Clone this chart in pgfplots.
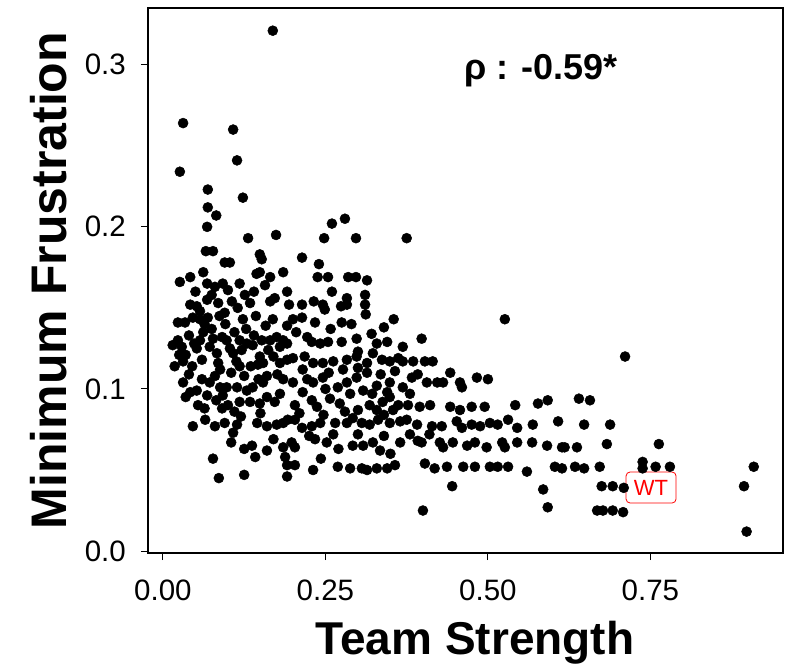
\documentclass[border=0pt]{standalone}
\usepackage{pgfplots}
\usepackage{pgfplotstable}
\pgfplotsset{compat=1.18}
\usepackage{fontspec}
\setmainfont{Liberation Sans}
\pgfplotstableread{
x y
0.169 0.321
0.031 0.264
0.108 0.260
0.114 0.241
0.026 0.234
0.069 0.223
0.123 0.218
0.069 0.212
0.082 0.207
0.068 0.200
0.131 0.193
0.174 0.195
0.066 0.185
0.077 0.185
0.149 0.183
0.152 0.180
0.095 0.178
0.103 0.178
0.149 0.172
0.144 0.171
0.165 0.169
0.185 0.172
0.026 0.166
0.042 0.169
0.062 0.172
0.068 0.165
0.080 0.163
0.092 0.165
0.118 0.165
0.126 0.158
0.134 0.153
0.075 0.158
0.068 0.155
0.106 0.154
0.165 0.154
0.172 0.156
0.042 0.152
0.052 0.151
0.057 0.148
0.095 0.147
0.046 0.144
0.057 0.143
0.069 0.144
0.123 0.143
0.169 0.143
0.023 0.141
0.034 0.141
0.062 0.135
0.057 0.130
0.077 0.131
0.091 0.132
0.098 0.130
0.118 0.130
0.129 0.128
0.138 0.127
0.165 0.130
0.175 0.132
0.023 0.130
0.029 0.126
0.052 0.125
0.072 0.126
0.108 0.122
0.149 0.120
0.154 0.116
0.180 0.126
0.185 0.130
0.018 0.114
0.045 0.114
0.031 0.117
0.085 0.116
0.088 0.112
0.118 0.114
0.146 0.115
0.180 0.116
0.031 0.104
0.042 0.098
0.052 0.099
0.072 0.104
0.088 0.101
0.098 0.101
0.114 0.101
0.129 0.099
0.138 0.101
0.154 0.104
0.068 0.096
0.092 0.096
0.054 0.090
0.091 0.088
0.100 0.090
0.118 0.092
0.134 0.092
0.149 0.091
0.172 0.092
0.046 0.077
0.080 0.077
0.108 0.073
0.114 0.078
0.145 0.079
0.160 0.077
0.175 0.078
0.192 0.081
0.077 0.057
0.137 0.065
0.142 0.058
0.188 0.058
0.086 0.045
0.125 0.047
0.191 0.046
0.260 0.202
0.280 0.205
0.248 0.193
0.297 0.193
0.375 0.193
0.214 0.181
0.240 0.177
0.238 0.169
0.254 0.169
0.285 0.169
0.297 0.169
0.314 0.167
0.191 0.160
0.260 0.160
0.283 0.156
0.283 0.152
0.311 0.158
0.311 0.152
0.312 0.146
0.194 0.152
0.214 0.152
0.232 0.154
0.246 0.152
0.249 0.149
0.274 0.151
0.200 0.143
0.191 0.139
0.214 0.144
0.234 0.141
0.275 0.141
0.355 0.143
0.191 0.128
0.229 0.129
0.242 0.128
0.254 0.129
0.275 0.129
0.298 0.131
0.329 0.128
0.345 0.129
0.369 0.126
0.191 0.118
0.200 0.119
0.218 0.120
0.231 0.116
0.246 0.116
0.262 0.117
0.283 0.118
0.298 0.120
0.314 0.116
0.323 0.122
0.337 0.118
0.349 0.117
0.362 0.119
0.185 0.106
0.200 0.104
0.222 0.106
0.231 0.104
0.246 0.107
0.269 0.101
0.283 0.104
0.298 0.107
0.314 0.110
0.308 0.099
0.329 0.102
0.349 0.104
0.369 0.101
0.203 0.090
0.229 0.093
0.237 0.089
0.257 0.094
0.272 0.091
0.318 0.090
0.338 0.092
0.349 0.095
0.362 0.090
0.377 0.090
0.329 0.087
0.354 0.087
0.185 0.079
0.203 0.081
0.214 0.076
0.229 0.077
0.242 0.079
0.265 0.079
0.283 0.079
0.292 0.082
0.306 0.079
0.318 0.078
0.331 0.081
0.349 0.079
0.365 0.080
0.375 0.081
0.185 0.064
0.198 0.067
0.203 0.064
0.234 0.069
0.252 0.067
0.292 0.065
0.308 0.065
0.323 0.067
0.334 0.062
0.365 0.067
0.191 0.053
0.203 0.053
0.231 0.050
0.269 0.052
0.288 0.051
0.306 0.051
0.314 0.050
0.329 0.051
0.345 0.051
0.357 0.053
0.526 0.143
0.398 0.131
0.369 0.117
0.385 0.117
0.403 0.117
0.415 0.117
0.383 0.107
0.392 0.109
0.442 0.110
0.406 0.104
0.422 0.104
0.431 0.104
0.457 0.104
0.460 0.101
0.483 0.107
0.500 0.106
0.395 0.089
0.411 0.090
0.442 0.089
0.457 0.087
0.475 0.089
0.495 0.089
0.542 0.090
0.577 0.091
0.391 0.078
0.414 0.077
0.429 0.077
0.452 0.080
0.460 0.076
0.475 0.078
0.488 0.077
0.503 0.079
0.515 0.078
0.531 0.081
0.545 0.076
0.569 0.078
0.398 0.067
0.426 0.067
0.431 0.064
0.446 0.067
0.468 0.065
0.480 0.067
0.498 0.064
0.522 0.067
0.526 0.064
0.545 0.067
0.568 0.067
0.591 0.065
0.403 0.054
0.418 0.051
0.437 0.052
0.462 0.052
0.480 0.052
0.503 0.052
0.515 0.052
0.531 0.052
0.560 0.049
0.445 0.040
0.585 0.038
0.400 0.025
0.592 0.027
0.711 0.120
0.592 0.093
0.640 0.094
0.657 0.093
0.608 0.080
0.648 0.078
0.688 0.078
0.614 0.064
0.618 0.064
0.637 0.064
0.683 0.066
0.763 0.066
0.603 0.052
0.614 0.051
0.634 0.052
0.648 0.051
0.672 0.052
0.738 0.055
0.738 0.051
0.758 0.052
0.780 0.052
0.909 0.052
0.675 0.040
0.692 0.040
0.709 0.039
0.894 0.040
0.668 0.025
0.677 0.025
0.692 0.025
0.708 0.024
0.898 0.012
0.035 0.121
0.040 0.133
0.048 0.128
0.060 0.118
0.064 0.140
0.075 0.137
0.083 0.122
0.087 0.145
0.096 0.140
0.103 0.125
0.110 0.135
0.113 0.117
0.121 0.124
0.128 0.137
0.135 0.114
0.140 0.133
0.143 0.145
0.152 0.130
0.158 0.139
0.162 0.124
0.170 0.120
0.176 0.109
0.160 0.108
0.147 0.106
0.125 0.108
0.105 0.110
0.080 0.108
0.060 0.106
0.040 0.109
0.025 0.121
0.015 0.127
0.050 0.160
0.085 0.153
0.100 0.161
0.115 0.150
0.140 0.160
0.157 0.164
0.035 0.095
0.064 0.088
0.082 0.093
0.110 0.086
0.160 0.095
0.180 0.097
0.120 0.083
0.065 0.081
0.095 0.079
0.150 0.085
0.170 0.069
0.125 0.063
0.105 0.067
0.160 0.062
0.205 0.135
0.222 0.132
0.258 0.137
0.290 0.140
0.300 0.123
0.321 0.134
0.340 0.138
0.215 0.112
0.255 0.110
0.277 0.112
0.300 0.113
0.335 0.109
0.357 0.111
0.215 0.098
0.250 0.100
0.288 0.097
0.322 0.097
0.345 0.098
0.380 0.097
0.210 0.085
0.247 0.084
0.280 0.086
0.300 0.087
0.340 0.084
0.225 0.071
0.262 0.072
0.300 0.072
0.340 0.071
0.380 0.072
0.270 0.063
0.350 0.060
0.243 0.057
0.392 0.068
0.410 0.072
}\pts
\begin{document}
\begin{tikzpicture}
\useasboundingbox (-148bp,-113bp) rectangle (642bp,553bp);
\begin{axis}[
  width=635bp, height=545bp, scale only axis,
  xmin=-0.023, xmax=0.954, ymin=-0.0012, ymax=0.335,
  axis line style={line width=1.3bp, black},
  xtick={0,0.25,0.5,0.75}, xticklabels={0.00,0.25,0.50,0.75},
  ytick={0,0.1,0.2,0.3}, yticklabels={0.0,0.1,0.2,0.3},
  xtick pos=left, ytick pos=left,
  tick align=outside, major tick length=7bp,
  tick style={line width=1.1bp, black},
  ticklabel style={font=\fontsize{29.5bp}{29.5bp}\selectfont, inner sep=0pt},
  xticklabel style={anchor=base, yshift=-40bp},
  yticklabel style={anchor=east, xshift=-15bp},
  xlabel={Team Strength}, ylabel={Minimum Frustration},
  xlabel style={font=\bfseries\fontsize{46bp}{46bp}\selectfont, at={(axis description cs:0.515,-0.1855)}, anchor=base},
  ylabel style={font=\bfseries\fontsize{50bp}{50bp}\selectfont, at={(axis description cs:-0.128,0.5)}, anchor=base},
]
\addplot[only marks, mark=*, mark size=5bp, mark options={fill=black, draw=black, line width=0.5bp}] table[x=x, y=y] {\pts};
\node[anchor=base, font=\bfseries\fontsize{36bp}{36bp}\selectfont] at (axis cs:0.5815,0.291) {ρ : -0.59*};
\node[draw=red, fill=white, text=red, rounded corners=4bp, line width=0.8bp, minimum width=50bp, minimum height=31bp, inner sep=0pt, font=\fontsize{22bp}{22bp}\selectfont] at (axis cs:0.751,0.0392) {WT};
\end{axis}
\end{tikzpicture}
\end{document}
